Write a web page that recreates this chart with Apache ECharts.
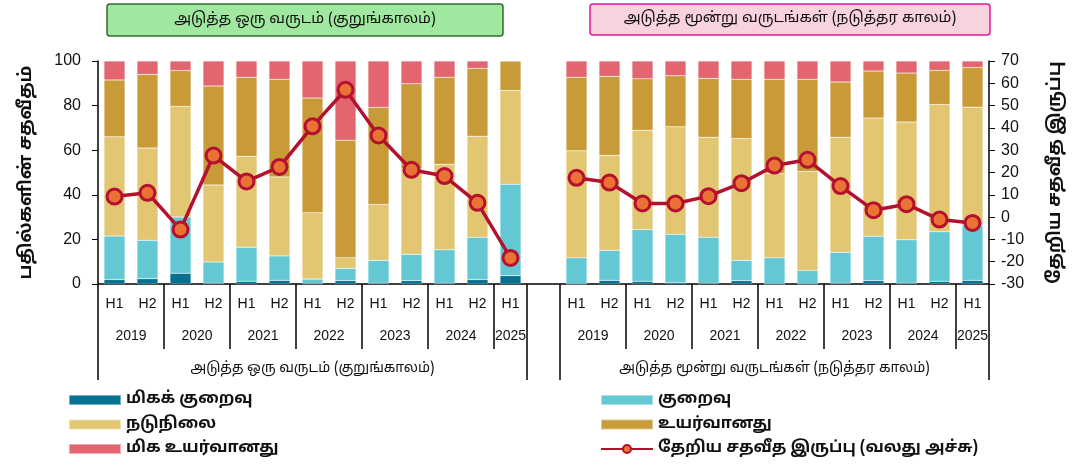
<!DOCTYPE html>
<html>
<head>
<meta charset="utf-8">
<script src="https://cdn.jsdelivr.net/npm/echarts@6/dist/echarts.min.js"></script>
<style>html,body{margin:0;padding:0;background:#fff}#main{width:1077px;height:470px}</style>
</head>
<body>
<div id="main"></div>
<script>
// categories
var halves = ['H1','H2','H1','H2','H1','H2','H1','H2','H1','H2','H1','H2','H1'];
var years = ['2019','2020','2021','2022','2023','2024','2025'];
var panelNames = ['அடுத்த ஒரு வருடம் (குறுங்காலம்)', 'அடுத்த மூன்று வருடங்கள் (நடுத்தர காலம்)'];
var seriesNames = ['மிகக் குறைவு','குறைவு','நடுநிலை','உயர்வானது','மிக உயர்வானது','தேறிய சதவீத இருப்பு (வலது அச்சு)'];

// short term (next one year)
var veryLowS  = [2.0, 2.4, 4.8, 0.3, 1.2, 1.6, 0.2, 1.5, 0.3, 1.5, 0.3, 2.0, 3.7];
var lowS      = [19.5,17.2,25.2, 9.6,15.3,11.0, 2.0, 5.5,10.3,11.8,15.1,19.0,41.0];
var moderateS = [44.5,41.4,49.6,34.5,40.8,35.4,29.8, 4.8,25.1,38.4,38.3,45.3,42.1];
var highS     = [25.5,33.0,16.1,44.4,35.4,43.8,51.4,52.7,43.5,38.1,39.0,30.4,13.2];
var veryHighS = [8.5, 6.0, 4.3,11.2, 7.3, 8.2,16.6,35.5,20.8,10.2, 7.3, 3.3, 0];
var netS      = [9.2,10.9,-5.6,27.6,16.0,22.5,40.7,57.1,36.6,21.2,18.4, 6.4,-18.3];

// medium term (next three years)
var veryLowM  = [0,   1.6, 1.2, 0.7, 0.3, 1.5, 0,   0,   0.3, 1.5, 0.3, 1.2, 1.6];
var lowM      = [11.8,13.5,23.2,21.6,20.7, 9.1,11.8, 6.1,13.9,19.9,19.5,22.2,24.8];
var moderateM = [47.9,42.6,44.6,48.2,44.8,54.6,37.8,44.4,51.6,53.0,52.8,57.1,52.9];
var highM     = [33.0,35.4,23.0,22.9,26.4,26.6,42.2,41.3,24.8,21.1,22.0,15.3,17.8];
var veryHighM = [7.3, 6.9, 8.0, 6.6, 7.8, 8.2, 8.2, 8.2, 9.4, 4.5, 5.4, 4.2, 2.9];
var netM      = [17.6,15.5, 6.1, 6.1, 9.4,15.2,23.1,25.7,13.9, 3.1, 5.8,-1.1,-2.6];

var colors = ['#05708F','#63C8D4','#E2C672','#C89A38','#E2656F'];
var lineColor = '#B3112E', markerColor = '#EB7235';
var tamilFont = "'Noto Sans Tamil','Latha','Vijaya','Liberation Sans',sans-serif";
var latinFont = "'Liberation Sans', Arial, sans-serif";

function join(a, b) { return a.concat([null]).concat(b); }
var periods = halves.concat(['']).concat(halves);

// half-slot points for the year and panel rows
var yearPts = [], panelPts = [];
for (var i = 0; i <= 54; i++) { yearPts.push(''); panelPts.push(''); }
[0, 28].forEach(function (off) {
  for (var k = 0; k < 6; k++) yearPts[off + 4 * k + 2] = years[k];
  yearPts[off + 25] = years[6];
});
panelPts[13] = panelNames[0];
panelPts[41] = panelNames[1];
var yearSeps = [4, 8, 12, 16, 20, 24, 32, 36, 40, 44, 48, 52];
var panelSeps = [0, 26, 28, 54];

var stacks = [
  join(veryLowS, veryLowM), join(lowS, lowM), join(moderateS, moderateM),
  join(highS, highM), join(veryHighS, veryHighM)
];

var series = stacks.map(function (d, i) {
  return {
    name: seriesNames[i], type: 'bar', stack: 'all', data: d,
    barWidth: 21, xAxisIndex: 0, yAxisIndex: 0,
    itemStyle: { color: colors[i], borderColor: 'rgba(255,255,255,0.45)', borderWidth: 0.5 }
  };
});
series.push({
  name: seriesNames[5], type: 'line', data: join(netS, netM),
  xAxisIndex: 0, yAxisIndex: 1, connectNulls: false,
  symbol: 'circle', symbolSize: 15,
  lineStyle: { color: lineColor, width: 3.5 },
  itemStyle: { color: markerColor, borderColor: lineColor, borderWidth: 3 },
  z: 5
});

var legendText = { fontSize: 16, fontWeight: 'bold', color: '#111', fontFamily: tamilFont };

var myChart = echarts.init(document.getElementById('main'));
var option = {
  animation: false,
  textStyle: { fontFamily: tamilFont },
  grid: { left: 98, right: 88, top: 61, bottom: 186 },
  graphic: [
    { type: 'rect', shape: { x: 107, y: 4, width: 396, height: 32, r: 3 },
      style: { fill: '#A0E8A0', stroke: '#346A2E', lineWidth: 1.5 } },
    { type: 'text', x: 305, y: 20, style: { text: panelNames[0], fill: '#111', font: '15px ' + tamilFont, align: 'center', verticalAlign: 'middle' } },
    { type: 'rect', shape: { x: 590, y: 4, width: 400, height: 31, r: 3 },
      style: { fill: '#F8D3DE', stroke: '#E0179E', lineWidth: 1.5 } },
    { type: 'text', x: 790, y: 19, style: { text: panelNames[1], fill: '#111', font: '15px ' + tamilFont, align: 'center', verticalAlign: 'middle' } }
  ],
  legend: [
    { orient: 'vertical', left: 68, top: 392, padding: 0, itemWidth: 52, itemHeight: 10, itemGap: 8.5,
      data: [
        { name: seriesNames[0], icon: 'rect' },
        { name: seriesNames[2], icon: 'rect' },
        { name: seriesNames[4], icon: 'rect' }
      ],
      textStyle: legendText },
    { orient: 'vertical', left: 600, top: 392, padding: 0, itemWidth: 52, itemHeight: 10, itemGap: 8.5,
      data: [
        { name: seriesNames[1], icon: 'rect' },
        { name: seriesNames[3], icon: 'rect' },
        seriesNames[5]
      ],
      textStyle: legendText }
  ],
  xAxis: [
    { type: 'category', data: periods, position: 'bottom',
      axisLine: { onZero: false, lineStyle: { color: '#000', width: 1.5 } },
      axisTick: { show: false },
      axisLabel: { interval: 0, margin: 13, fontSize: 14, color: '#111', fontFamily: latinFont } },
    { type: 'category', data: yearPts, boundaryGap: false, position: 'bottom',
      axisLine: { show: false, onZero: false },
      axisTick: { show: true, length: 65, lineStyle: { color: '#000', width: 1.5 },
        interval: function (idx) { return yearSeps.indexOf(idx) >= 0; } },
      axisLabel: { interval: 0, margin: 45, fontSize: 14, color: '#111', fontFamily: latinFont } },
    { type: 'category', data: panelPts, boundaryGap: false, position: 'bottom',
      axisLine: { show: false, onZero: false },
      axisTick: { show: true, length: 96, lineStyle: { color: '#000', width: 1.5 },
        interval: function (idx) { return panelSeps.indexOf(idx) >= 0; } },
      axisLabel: { interval: 0, margin: 78, fontSize: 14, color: '#111', fontFamily: tamilFont } }
  ],
  yAxis: [
    { type: 'value', min: 0, max: 100, interval: 20, position: 'left',
      name: 'பதில்களின் சதவீதம்', nameLocation: 'middle', nameGap: 62, nameRotate: 90,
      nameTextStyle: { fontSize: 18, fontWeight: 'bold', color: '#111', fontFamily: tamilFont },
      axisLine: { show: true, lineStyle: { color: '#000', width: 1.5 } },
      axisTick: { show: true, length: 6, lineStyle: { color: '#000' } },
      axisLabel: { fontSize: 16, color: '#111', margin: 17, fontFamily: latinFont },
      splitLine: { show: false } },
    { type: 'value', min: -30, max: 70, interval: 10, position: 'right',
      name: 'தேறிய சதவீத இருப்பு', nameLocation: 'middle', nameGap: 58, nameRotate: 90,
      nameTextStyle: { fontSize: 18, fontWeight: 'bold', color: '#111', fontFamily: tamilFont },
      axisLine: { show: true, lineStyle: { color: '#000', width: 1.5 } },
      axisTick: { show: true, length: 6, lineStyle: { color: '#000' } },
      axisLabel: { fontSize: 16, color: '#111', margin: 12, fontFamily: latinFont },
      splitLine: { show: false } }
  ],
  series: series
};
myChart.setOption(option);
</script>
</body>
</html>
